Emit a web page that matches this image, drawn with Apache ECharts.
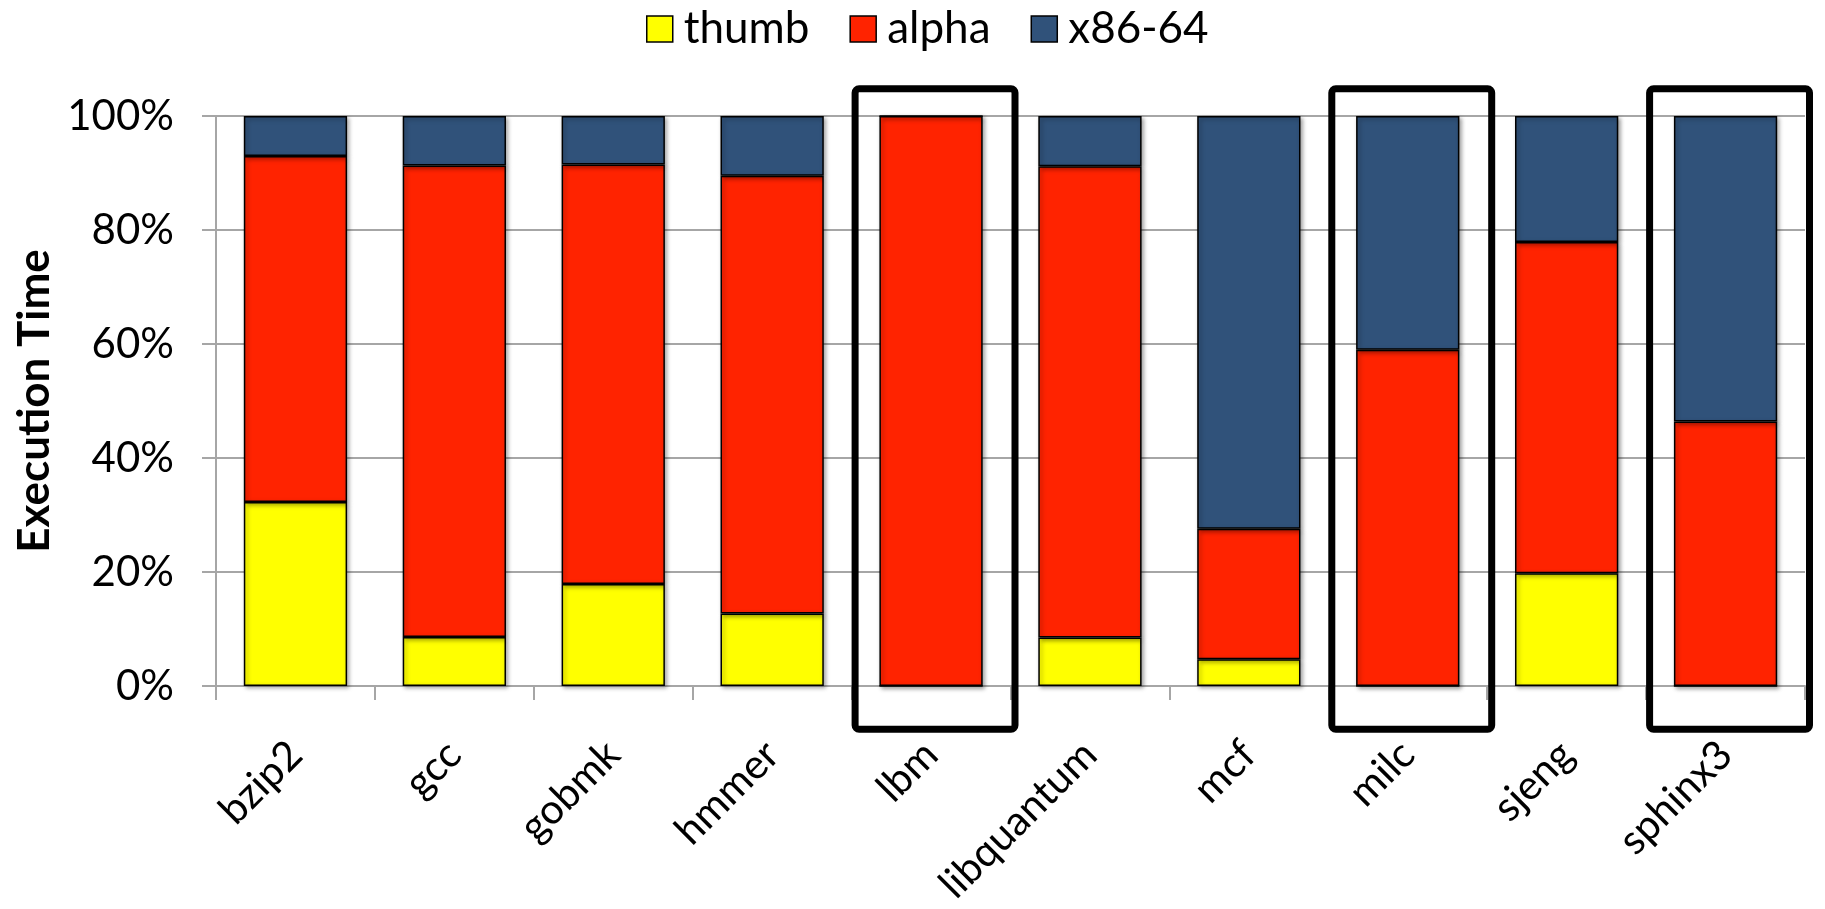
<!DOCTYPE html>
<html>
<head>
<meta charset="utf-8">
<script src="https://cdn.jsdelivr.net/npm/echarts@6/dist/echarts.min.js"></script>
<style>
  html, body { margin: 0; padding: 0; background: #fff; }
  #chart { width: 1825px; height: 909px; }
</style>
</head>
<body>
<div id="chart"></div>
<script>
// Benchmarks (x axis)
const categories = ['bzip2', 'gcc', 'gobmk', 'hmmer', 'lbm', 'libquantum', 'mcf', 'milc', 'sjeng', 'sphinx3'];
// Share of execution time per ISA, percent (stacked to 100)
const thumb = [32.3, 8.6, 17.9, 12.7, 0, 8.5, 4.7, 0, 19.8, 0];
const alpha = [60.7, 82.7, 73.6, 76.8, 100, 82.7, 22.9, 59.0, 58.1, 46.4];
const x86 = [7.0, 8.7, 8.5, 10.5, 0, 8.8, 72.4, 41.0, 22.1, 53.6];
// Y axis ticks
const yMin = 0, yMax = 100, yStep = 20;
// Benchmarks outlined with a frame
const framed = ['lbm', 'milc', 'sphinx3'];

const FONT = 'Lato';
const colors = { thumb: '#FFFF00', alpha: '#FF2300', x86: '#30527A' };

const barStyle = (c) => ({
  color: c,
  borderColor: '#000',
  borderWidth: 1.5,
  shadowColor: 'rgba(0,0,0,0.35)',
  shadowBlur: 4,
  shadowOffsetX: 2,
  shadowOffsetY: 2
});

const chart = echarts.init(document.getElementById('chart'), null, { renderer: 'canvas' });

const mkSeries = (name, data, c) => ({
  name: name,
  type: 'bar',
  stack: 'total',
  barWidth: '65%',
  data: data,
  itemStyle: barStyle(c),
  emphasis: { disabled: true }
});

chart.setOption({
  animation: false,
  backgroundColor: '#fff',
  textStyle: { fontFamily: FONT, color: '#000' },
  legend: {
    left: 641,
    top: 2,
    itemWidth: 26,
    itemHeight: 26,
    itemGap: 40,
    icon: 'rect',
    textStyle: { fontFamily: FONT, fontSize: 44, color: '#000', padding: [0, 0, 0, 6] },
    itemStyle: { borderColor: '#000', borderWidth: 1.5, shadowBlur: 0, shadowOffsetX: 0, shadowOffsetY: 0 },
    data: ['thumb', 'alpha', 'x86-64']
  },
  grid: { left: 216, right: 20, top: 116, bottom: 223 },
  xAxis: {
    type: 'category',
    data: categories,
    boundaryGap: true,
    axisLine: { lineStyle: { color: '#A6A6A6', width: 2 } },
    axisTick: { show: true, length: 14, lineStyle: { color: '#A6A6A6', width: 2 } },
    axisLabel: { rotate: 45, margin: 62, fontFamily: FONT, fontSize: 41, color: '#000', interval: 0 }
  },
  yAxis: {
    type: 'value',
    min: yMin,
    max: yMax,
    interval: yStep,
    name: 'Execution Time',
    nameLocation: 'middle',
    nameGap: 158,
    nameTextStyle: { fontFamily: FONT, fontWeight: 'bold', fontSize: 44, color: '#000' },
    axisLine: { show: true, lineStyle: { color: '#A6A6A6', width: 2 } },
    axisTick: { show: true, length: 14, lineStyle: { color: '#A6A6A6', width: 2 } },
    splitLine: { show: true, lineStyle: { color: '#A6A6A6', width: 2 } },
    axisLabel: { formatter: '{value}%', margin: 42, fontFamily: FONT, fontSize: 42, color: '#000' }
  },
  series: [
    mkSeries('thumb', thumb, colors.thumb),
    mkSeries('alpha', alpha, colors.alpha),
    mkSeries('x86-64', x86, colors.x86)
  ]
});

// Frames around the highlighted benchmarks, positioned from the axes
function drawFrames() {
  const px = (i) => chart.convertToPixel({ xAxisIndex: 0 }, i);
  const py = (v) => chart.convertToPixel({ yAxisIndex: 0 }, v);
  const band = px(1) - px(0);
  const yTop = py(yMax), yBottom = py(yMin);
  const h = yBottom - yTop;
  const lw = 7;
  const graphics = framed.map((name) => {
    const idx = categories.indexOf(name);
    const cx = px(idx);
    const outerL = cx - band / 2;
    const outerR = cx + band / 2 + 8;
    const outerT = yTop - 0.054 * h;
    const outerB = yBottom + 0.082 * h;
    return {
      type: 'rect',
      z: 100,
      shape: { x: outerL + lw / 2, y: outerT + lw / 2, width: outerR - outerL - lw, height: outerB - outerT - lw, r: 4 },
      style: { fill: null, stroke: '#000', lineWidth: lw }
    };
  });
  chart.setOption({ graphic: graphics });
}
drawFrames();
</script>
</body>
</html>
